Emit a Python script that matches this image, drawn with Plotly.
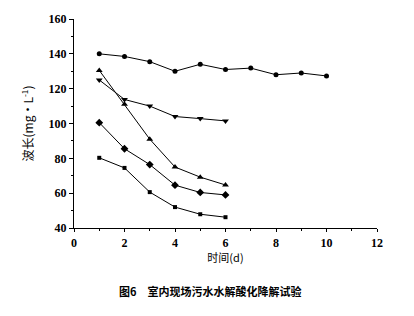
import plotly.graph_objects as go

days_long = [1, 2, 3, 4, 5, 6, 7, 8, 9, 10]
circle_vals = [140, 138.5, 135.5, 130, 134, 131, 131.8, 128, 129, 127.3]
days_short = [1, 2, 3, 4, 5, 6]
tri_down_vals = [125, 113.8, 110, 104, 102.8, 101.5]
tri_up_vals = [130.5, 111, 91, 75, 69.2, 64.7]
diamond_vals = [100.5, 85.5, 76.4, 64.6, 60.4, 59]
square_vals = [80.3, 74.5, 60.6, 52, 47.9, 46.2]

series = [
    (days_long, circle_vals, "circle", 5),
    (days_short, tri_down_vals, "triangle-down", 6),
    (days_short, tri_up_vals, "triangle-up", 6),
    (days_short, diamond_vals, "diamond", 6),
    (days_short, square_vals, "square", 4),
]

fig = go.Figure()
for xs, ys, sym, sz in series:
    fig.add_trace(go.Scatter(
        x=xs, y=ys, mode="lines+markers",
        line=dict(color="black", width=1),
        marker=dict(symbol=sym, size=sz, color="black"),
        showlegend=False,
    ))

tickfont = dict(family="Liberation Serif", size=12, color="black", weight="bold")
fig.update_layout(
    width=414, height=316,
    margin=dict(l=74, r=37, t=15, b=88),
    paper_bgcolor="white", plot_bgcolor="white",
    xaxis=dict(
        range=[0, 12], tickvals=[0, 2, 4, 6, 8, 10, 12],
        showline=True, linecolor="black", linewidth=1.2,
        ticks="outside", ticklen=3, tickcolor="black",
        minor=dict(dtick=1, ticks="outside", ticklen=2, tickcolor="black"),
        showgrid=False, zeroline=False, tickfont=tickfont,
        title=dict(text="时间(d)", font=dict(family="Noto Sans CJK SC", size=11, color="black"), standoff=2),
    ),
    yaxis=dict(
        range=[40, 160], tickvals=[40, 60, 80, 100, 120, 140, 160],
        showline=True, linecolor="black", linewidth=1.2,
        ticks="outside", ticklen=4, tickcolor="black",
        minor=dict(dtick=10, ticks="outside", ticklen=2, tickcolor="black"),
        showgrid=False, zeroline=False, tickfont=tickfont,
        title=dict(text="波长(mg·L<sup>-1</sup>)", font=dict(family="Noto Sans CJK SC", size=12, color="black"), standoff=12),
    ),
    annotations=[dict(
        text="<b>图6　室内现场污水水解酸化降解试验</b>",
        xref="paper", yref="paper", x=0.45, y=-0.3, xanchor="center", yanchor="middle",
        showarrow=False, font=dict(family="Noto Sans CJK SC", size=11, color="black"),
    )],
)

fig.write_html("out.html")
